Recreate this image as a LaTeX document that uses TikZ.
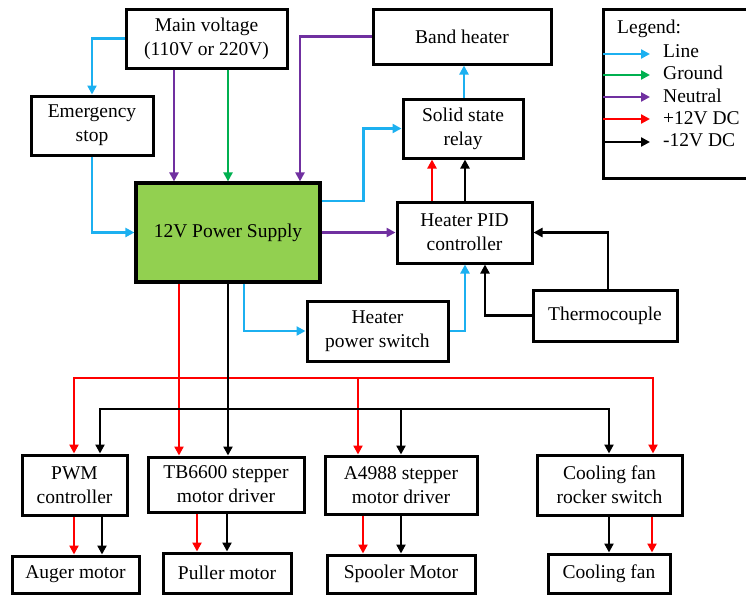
\documentclass[tikz,border=0pt]{standalone}
\usepackage{fontspec}
\setmainfont{Liberation Serif}
\usetikzlibrary{arrows.meta,calc}
\definecolor{lineblue}{HTML}{1CB0F0}
\definecolor{gndgreen}{HTML}{00B050}
\definecolor{neutpurple}{HTML}{7030A0}
\definecolor{psgreen}{HTML}{92D050}
\begin{document}
\begin{tikzpicture}[x=1pt,y=-1pt,
  box/.style={draw=black, line width=3pt, fill=white, align=center, inner sep=0pt,
    font=\fontsize{19.5}{24}\selectfont},
  conn/.style={line width=2.6pt, -{Triangle[length=9pt,width=9pt]}},
  ln/.style={conn, draw=lineblue, -{Triangle[length=9pt,width=9pt,fill=lineblue]}},
  gd/.style={conn, draw=gndgreen},
  nt/.style={conn, draw=neutpurple},
  pr/.style={conn, draw=red},
  mn/.style={conn, draw=black},
  ltxt/.style={anchor=west, inner sep=0pt, font=\fontsize{19.5}{23}\selectfont}]
\useasboundingbox (0,0) rectangle (746,595);

% boxes
\node[box, minimum width=161pt, minimum height=59pt] (mv) at (206.5,38.5) {Main voltage\\(110V or 220V)};
\node[box, minimum width=122pt, minimum height=59pt] (es) at (92,125.5) {Emergency\\stop};
\node[box, fill=psgreen, line width=3.2pt, minimum width=184pt, minimum height=99pt] (ps) at (228,232.5) {12V Power Supply};
\node[box, minimum width=178pt, minimum height=55pt] (bh) at (462,36.5) {Band heater};
\node[box, minimum width=120pt, minimum height=59pt] (ssr) at (463,128.5) {Solid state\\relay};
\node[box, minimum width=135pt, minimum height=61pt] (pid) at (464.5,232.5) {Heater PID\\controller};
\node[box, minimum width=144pt, minimum height=51pt] (tc) at (605,315.5) {Thermocouple};
\node[box, minimum width=141pt, minimum height=60pt] (hps) at (377.5,331) {Heater\\power switch};
\node[box, minimum width=105pt, minimum height=60pt] (pwm) at (74.5,485) {PWM\\controller};
\node[box, minimum width=156pt, minimum height=55pt] (tb) at (226,484.5) {TB6600 stepper\\motor driver};
\node[box, minimum width=152pt, minimum height=58pt] (a49) at (401,485) {A4988 stepper\\motor driver};
\node[box, minimum width=145pt, minimum height=60pt] (cfs) at (609.5,485) {Cooling fan\\rocker switch};
\node[box, minimum width=127pt, minimum height=37pt] (aug) at (75.5,574.5) {Auger motor};
\node[box, minimum width=128pt, minimum height=40pt] (pul) at (227,573) {Puller motor};
\node[box, minimum width=148pt, minimum height=38pt] (spo) at (401,574) {Spooler Motor};
\node[box, minimum width=122pt, minimum height=39pt] (cf) at (609,573.5) {Cooling fan};

% legend
\draw[line width=3pt] (603,9) rectangle (770,178);
\node[ltxt] (legt) at (617,29) {Legend:};
\coordinate (l1) at (603,54);
\coordinate (l2) at (603,75);
\coordinate (l3) at (603,97);
\coordinate (l4) at (603,119);
\coordinate (l5) at (603,142);
\coordinate (l1e) at (650,54);
\coordinate (l2e) at (650,75);
\coordinate (l3e) at (650,97);
\coordinate (l4e) at (650,119);
\coordinate (l5e) at (650,142);
\draw[ln] (l1) -- (l1e);
\draw[gd] (l2) -- (l2e);
\draw[nt] (l3) -- (l3e);
\draw[pr] (l4) -- (l4e);
\draw[mn] (l5) -- (l5e);
\node[ltxt] (t1) at (663,51) {Line};
\node[ltxt] (t2) at (663,73) {Ground};
\node[ltxt] (t3) at (663,96) {Neutral};
\node[ltxt] (t4) at (663,118) {+12V DC};
\node[ltxt] (t5) at (663,140) {-12V DC};

% top connections
\draw[ln] (mv.west) -| (es.north);
\draw[ln] (es.south) |- (ps.west);
\draw[nt] (mv.south -| 174,0) -- (ps.north -| 174,0);
\draw[gd] (mv.south -| 228,0) -- (ps.north -| 228,0);
\draw[nt] (bh.west) -| (ps.north -| 300,0);
\draw[ln] (ps.east |- 0,201) -- ++(42,0) |- (ssr.west);
\draw[nt] (ps.east) -- (pid.west);
\draw[ln] (ssr.north -| 464,0) -- (bh.south -| 464,0);
\draw[pr] (pid.north -| 432,0) -- (ssr.south -| 432,0);
\draw[mn] (pid.north -| 465,0) -- (ssr.south -| 465,0);
\draw[mn] (tc.north -| 608,0) |- (pid.east);
\draw[mn] (tc.west) -| (pid.south -| 485,0);
\draw[ln] (hps.east) -| (pid.south -| 465,0);
\draw[ln] (ps.south -| 244,0) |- (hps.west);

% DC buses
\coordinate (rb) at (179,378);
\coordinate (ra) at (358,378);
\coordinate (kb) at (228,409);
\coordinate (ka) at (401,409);
\draw[pr] (ps.south -| 179,0) -- (tb.north -| 179,0);
\draw[pr] (rb) -| (pwm.north -| 74,0);
\draw[pr] (rb) -| (cfs.north -| 653,0);
\draw[pr] (ra) -- (a49.north -| 358,0);
\draw[mn] (ps.south) -- (tb.north -| ps.south);
\draw[mn] (kb) -| (pwm.north -| 100,0);
\draw[mn] (kb) -| (cfs.north -| 609,0);
\draw[mn] (ka) -- (a49.north);

% bottom links
\draw[pr] (pwm.south -| 74,0) -- (aug.north -| 74,0);
\draw[mn] (pwm.south -| 102,0) -- (aug.north -| 102,0);
\draw[pr] (tb.south -| 197,0) -- (pul.north -| 197,0);
\draw[mn] (tb.south -| 227,0) -- (pul.north -| 227,0);
\draw[pr] (a49.south -| 363,0) -- (spo.north -| 363,0);
\draw[mn] (a49.south -| 401,0) -- (spo.north -| 401,0);
\draw[mn] (cfs.south -| 609,0) -- (cf.north -| 609,0);
\draw[pr] (cfs.south -| 652,0) -- (cf.north -| 652,0);
\end{tikzpicture}
\end{document}
